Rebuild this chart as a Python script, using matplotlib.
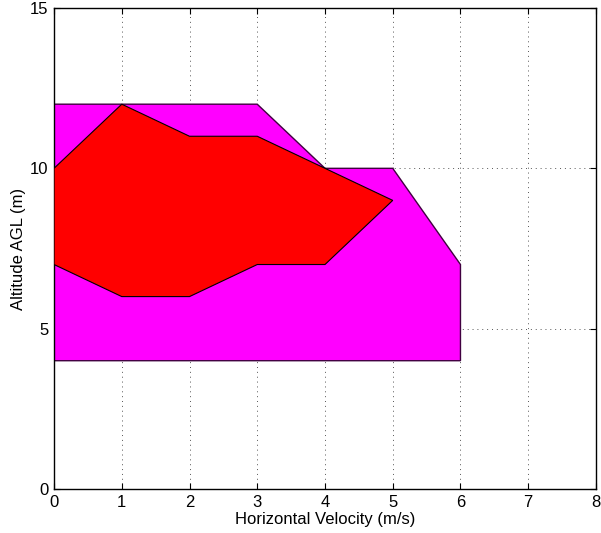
import numpy as np
import matplotlib
matplotlib.use('Agg')
import matplotlib.pyplot as plt
from matplotlib.patches import Polygon

plt.rcParams['font.family'] = ['Liberation Sans', 'DejaVu Sans']

# outer envelope (magenta)
outer_x = [0, 0, 3, 4, 5, 6, 6, 0]
outer_y = [4, 12, 12, 10, 10, 7, 4, 4]

# inner envelope (red)
inner_x = [0, 1, 2, 3, 4, 5, 4, 3, 2, 1, 0]
inner_y = [10, 12, 11, 11, 10, 9, 7, 7, 6, 6, 7]

xticks = [0, 1, 2, 3, 4, 5, 6, 7, 8]
yticks = [0, 5, 10, 15]

fig = plt.figure(figsize=(6.01, 5.33), dpi=100)
ax = fig.add_axes([0.0899, 0.0826, 0.9017, 0.9024])

ax.add_patch(Polygon(np.column_stack([outer_x, outer_y]), closed=True,
                     facecolor='#ff00ff', edgecolor='#400040', linewidth=1.0, zorder=2))
ax.add_patch(Polygon(np.column_stack([inner_x, inner_y]), closed=True,
                     facecolor='#ff0000', edgecolor='black', linewidth=0.8, zorder=3))

ax.set_xlim(0, 8)
ax.set_ylim(0, 15)
ax.set_xticks(xticks)
ax.set_yticks(yticks)
ax.tick_params(direction='in', length=4, top=True, right=True, labelsize=12, pad=4)
ax.grid(True, linestyle=(0, (1, 4)), color='#555555', linewidth=0.7)
ax.set_axisbelow(True)
for s in ax.spines.values():
    s.set_linewidth(1.0)

ax.set_xlabel('Horizontal Velocity (m/s)', fontsize=12, labelpad=2)
ax.set_ylabel('Altitude AGL (m)', fontsize=12, labelpad=3)

fig.savefig('out.png', dpi=100)
